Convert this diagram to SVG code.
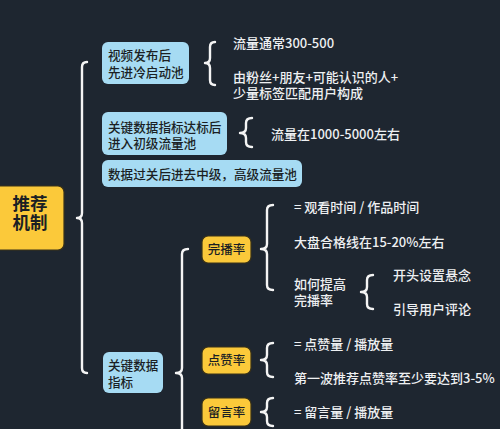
<svg xmlns="http://www.w3.org/2000/svg" width="500" height="429" viewBox="0 0 500 429">
<style>
.bg{fill:#1e2630}
.blue{fill:#a6dbf3}
.yel{fill:#fbc93a;stroke:#3a3218;stroke-width:1.2}
.nt{font-family:"Noto Sans CJK SC","Noto Sans",sans-serif;font-size:12.6px;font-weight:500;fill:#1b1f24}
.yt{font-family:"Noto Sans CJK SC","Noto Sans",sans-serif;font-size:12.5px;font-weight:500;fill:#1b1f24;text-anchor:middle}
.mt{font-family:"Noto Sans CJK SC","Noto Sans",sans-serif;font-size:17.5px;font-weight:bold;fill:#1b1f24;text-anchor:middle}
.wt{font-family:"Noto Sans CJK SC","Noto Sans",sans-serif;font-size:13px;font-weight:500;fill:#eef0f2}
.br{fill:none;stroke:#f4f4f4;stroke-width:2.4;stroke-linecap:round;stroke-linejoin:round}
</style>
<rect class="bg" x="0" y="0" width="500" height="429"/>
<g id="connectors">
<path class="br" d="M87 62 Q82 62 82 67 L82 213 Q82 218 77 218 Q82 218 82 223 L82 368 Q82 373 87 373"/>
<path class="br" d="M188 249 Q182 249 182 254 L182 368 Q182 373 176 373 Q182 373 182 378 L182 440"/>
<path class="br" d="M215 42 Q210 42 210 47 L210 58 Q210 63 205 63 Q210 63 210 68 L210 80 Q210 85 215 85"/>
<path class="br" d="M252 118 Q246 118 246 123 L246 128 Q246 133 240 133 Q246 133 246 138 L246 142 Q246 147 252 147"/>
<path class="br" d="M273 205 Q267 205 267 210 L267 244 Q267 249 261 249 Q267 249 267 254 L267 285 Q267 290 273 290"/>
<path class="br" d="M373 275 Q367 275 367 280 L367 287 Q367 292 361 292 Q367 292 367 297 L367 304 Q367 309 373 309"/>
<path class="br" d="M273 343 Q267 343 267 348 L267 355 Q267 360 261 360 Q267 360 267 365 L267 372 Q267 377 273 377"/>
<path class="br" d="M273 398 Q267 398 267 403 L267 407 Q267 412 261 412 Q267 412 267 417 L267 421 Q267 426 273 426"/>
</g>
<g id="n-main">
<rect class="yel" x="-6" y="186" width="70" height="64" rx="6"/>
<text class="mt" x="30" y="210">推荐</text>
<text class="mt" x="30" y="229">机制</text>
</g>
<g id="n-cold">
<rect class="blue" x="102" y="42" width="87" height="42" rx="6"/>
<text class="nt" x="108" y="60">视频发布后</text>
<text class="nt" x="108" y="77">先进冷启动池</text>
</g>
<g id="n-primary">
<rect class="blue" x="102" y="112" width="125" height="43" rx="6"/>
<text class="nt" x="108" y="132">关键数据指标达标后</text>
<text class="nt" x="108" y="148">进入初级流量池</text>
</g>
<g id="n-mid">
<rect class="blue" x="102" y="160" width="200" height="27" rx="6"/>
<text class="nt" x="108" y="179">数据过关后进去中级，高级流量池</text>
</g>
<g id="n-key">
<rect class="blue" x="103" y="352" width="60" height="41" rx="6"/>
<text class="nt" x="108" y="370">关键数据</text>
<text class="nt" x="108" y="387">指标</text>
</g>
<g id="n-complete">
<rect class="yel" x="202" y="236" width="49" height="27" rx="6"/>
<text class="yt" x="226.5" y="254">完播率</text>
</g>
<g id="n-like">
<rect class="yel" x="202" y="347" width="49" height="27" rx="6"/>
<text class="yt" x="226.5" y="365">点赞率</text>
</g>
<g id="n-comment">
<rect class="yel" x="202" y="398" width="49" height="28" rx="6"/>
<text class="yt" x="226.5" y="417">留言率</text>
</g>
<g id="t-cold">
<text class="wt" x="233" y="48">流量通常300-500</text>
<text class="wt" x="233" y="82">由粉丝+朋友+可能认识的人+</text>
<text class="wt" x="233" y="98">少量标签匹配用户构成</text>
</g>
<g id="t-primary">
<text class="wt" x="271" y="139">流量在1000-5000左右</text>
</g>
<g id="t-complete">
<text class="wt" x="294" y="212">= 观看时间 / 作品时间</text>
<text class="wt" x="294" y="247">大盘合格线在15-20%左右</text>
<text class="wt" x="294" y="289">如何提高</text>
<text class="wt" x="294" y="305">完播率</text>
<text class="wt" x="393" y="280">开头设置悬念</text>
<text class="wt" x="393" y="314">引导用户评论</text>
</g>
<g id="t-like">
<text class="wt" x="294" y="349">= 点赞量 / 播放量</text>
<text class="wt" x="294" y="383">第一波推荐点赞率至少要达到3-5%</text>
</g>
<g id="t-comment">
<text class="wt" x="294" y="417">= 留言量 / 播放量</text>
</g>
</svg>
